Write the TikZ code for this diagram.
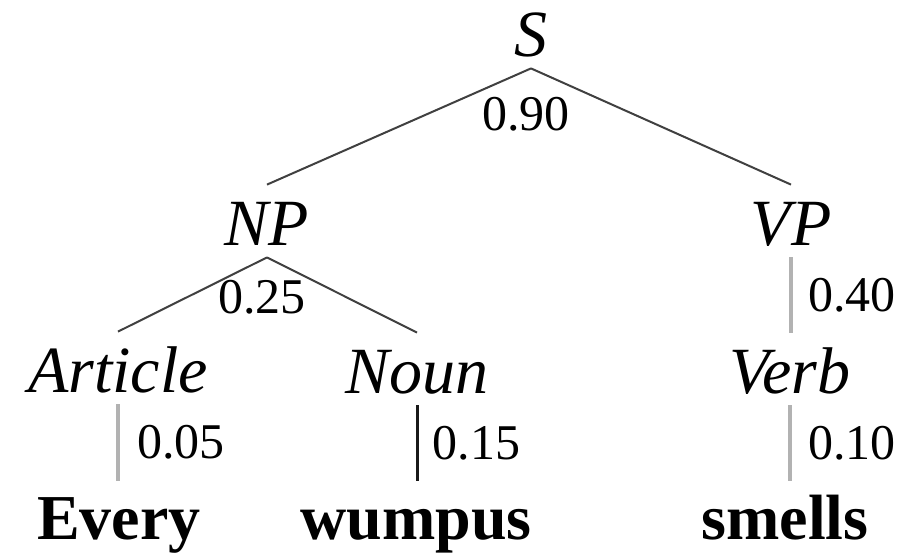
\documentclass[tikz,border=0pt]{standalone}
\usepackage{fontspec}
\setmainfont{Liberation Serif}
\usepackage{tikz}

\begin{document}
\begin{tikzpicture} [
        x=0.5pt, y=-0.5pt,
        cat/.style={
        font=\fontsize{33}{36}\selectfont\itshape,
        inner sep=0pt, text height=30pt, text depth=6pt,
        anchor=base
        },
        word/.style={
        font=\fontsize{32}{35}\selectfont\bfseries,
        inner sep=0pt, text height=29pt, text depth=3.5pt,
        anchor=base
        },
        prob/.style={font=\fontsize{25}{28}\selectfont, inner sep=0pt},
        branch/.style={draw=black!75, line width=1pt},
        unary/.style={draw=black!30, line width=2pt},
        rlab/.style={prob, midway, anchor=west, xshift=#1}
    ]

        % 坐标单位是像素 (905 x 552)
    \useasboundingbox (0,0) rectangle (905,552);

    \node[cat] (s)    at (531,56)  {S};
    \node[cat] (np)   at (267,245) {NP};
    \node[cat] (vp)   at (791,245) {VP};
    \node[cat] (art)  at (118,392) {Article};
    \node[cat] (noun) at (417,393) {Noun};
    \node[cat] (verb) at (790,393) {Verb};

    \node[word] (every)  at (119,539) {Every};
    \node[word] (wumpus) at (416,539) {wumpus};
    \node[word] (smells) at (785,539) {smells};

    \node[prob] (p90) at (526,114) {0.90};
    \node[prob] (p25) at (262,297) {0.25};

    \draw[branch] (s.south) -- (np.north);
    \draw[branch] (s.south) -- (vp.north);
    \draw[branch] (np.south) -- (art.north);
    \draw[branch] (np.south) -- (noun.north);

    \draw[unary] (vp.south) -- (vp.south |- verb.north)
        node[rlab=7.5pt] (p40) {0.40};
    \draw[unary] (art.south) -- (art.south |- every.north)
        node[rlab=8.5pt] (p05) {0.05};
    \draw[draw=black!90, line width=1.5pt] (noun.south) -- (noun.south |- wumpus.north)
        node[rlab=7pt] (p15) {0.15};
    \draw[unary] (verb.south) -- (verb.south |- smells.north)
        node[rlab=8pt] (p10) {0.10};

    \end{tikzpicture}
\end{document}
